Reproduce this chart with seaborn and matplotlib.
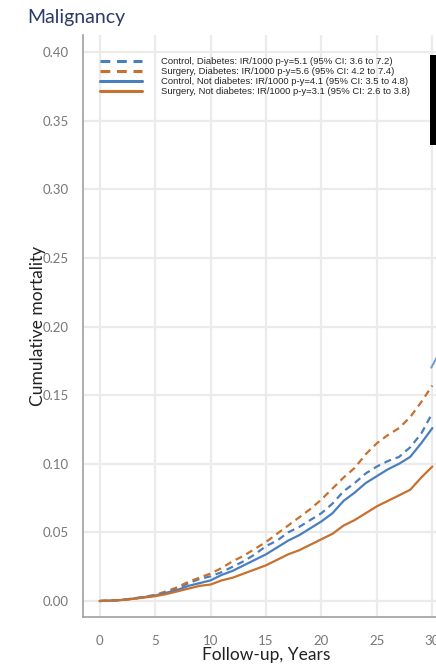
import numpy as np
import pandas as pd
import matplotlib
matplotlib.use("Agg")
import matplotlib.pyplot as plt
import seaborn as sns
from matplotlib.patches import Rectangle

################################################
## data (cumulative mortality by year)
years = list(range(0, 31))
surg_dm = [0, 0.0003, 0.0008, 0.0018, 0.003, 0.0045, 0.007, 0.010, 0.014, 0.017, 0.020,
           0.024, 0.029, 0.033, 0.038, 0.043, 0.049, 0.055, 0.061, 0.067, 0.074,
           0.082, 0.090, 0.097, 0.107, 0.115, 0.121, 0.126, 0.134, 0.145, 0.157]
ctrl_dm = [0, 0.0003, 0.0008, 0.0017, 0.0028, 0.004, 0.006, 0.009, 0.013, 0.016, 0.018,
           0.021, 0.025, 0.029, 0.034, 0.040, 0.044, 0.050, 0.054, 0.059, 0.064,
           0.071, 0.080, 0.086, 0.093, 0.098, 0.102, 0.105, 0.112, 0.122, 0.137]
ctrl_nodm = [0, 0.0003, 0.0008, 0.0017, 0.0028, 0.004, 0.006, 0.008, 0.011, 0.013, 0.015,
             0.019, 0.022, 0.026, 0.030, 0.034, 0.039, 0.044, 0.048, 0.053, 0.058,
             0.064, 0.073, 0.079, 0.086, 0.091, 0.096, 0.100, 0.105, 0.115, 0.126]
surg_nodm = [0, 0.0003, 0.0007, 0.0015, 0.0025, 0.0035, 0.005, 0.007, 0.009, 0.011, 0.012,
             0.015, 0.017, 0.020, 0.023, 0.026, 0.030, 0.034, 0.037, 0.041, 0.045,
             0.049, 0.055, 0.059, 0.064, 0.069, 0.073, 0.077, 0.081, 0.090, 0.098]
tail_years = [29.9, 30.5]
tail_vals = [0.170, 0.179]

labels = ["Control, Diabetes: IR/1000 p-y=5.1 (95% CI: 3.6 to 7.2)",
          "Surgery, Diabetes: IR/1000 p-y=5.6 (95% CI: 4.2 to 7.4)",
          "Control, Not diabetes: IR/1000 p-y=4.1 (95% CI: 3.5 to 4.8)",
          "Surgery, Not diabetes: IR/1000 p-y=3.1 (95% CI: 2.6 to 3.8)"]
series = [ctrl_dm, surg_dm, ctrl_nodm, surg_nodm]

blue = "#4a7fbd"
orange = "#c8702e"
palette = dict(zip(labels, [blue, orange, blue, orange]))
dashes = dict(zip(labels, [(3.2, 2.2), (3.2, 2.2), "", ""]))

df = pd.concat([pd.DataFrame({"years": years, "cum": s, "label": lab})
                for s, lab in zip(series, labels)], ignore_index=True)

################################################
## plot
sns.set_style("whitegrid")
plt.rcParams['font.family'] = ['Lato', 'DejaVu Sans']

fig = plt.figure(figsize=(4.36, 6.69), dpi=100)
ax = fig.add_axes([83/436, 1-617/669, 366/436, 582/669])

sns.lineplot(data=df, x="years", y="cum", hue="label", style="label",
             hue_order=labels, style_order=labels, palette=palette, dashes=dashes,
             linewidth=1.6, ax=ax)
ax.plot(tail_years, tail_vals, color="#6a9bd3", linewidth=1.4)

ax.set_xticks(range(0, 36, 5))
ax.set_yticks(np.arange(0, 0.401, 0.05))
ax.set_yticklabels([f"{v:.2f}" for v in np.arange(0, 0.401, 0.05)])
ax.set_xlim(-1.5, 31.5)
ax.set_ylim(-0.01166, 0.4124)

ax.grid(True, color="#ebebeb", linewidth=1.6)
for side in ["top", "right"]:
    ax.spines[side].set_visible(False)
for side in ["left", "bottom"]:
    ax.spines[side].set_color("#a0a0a0")
    ax.spines[side].set_linewidth(1.2)
ax.tick_params(axis="both", direction="out", length=5, width=1.1, color="#a0a0a0",
               labelcolor="#777777", labelsize=9.5, pad=5)
ax.tick_params(axis="x", pad=8)

ax.set_xlabel("Follow-up, Years", fontsize=12.5, color="#222222")
ax.set_ylabel("Cumulative mortality", fontsize=12.5, color="#222222")
ax.xaxis.set_label_coords(0.5, -0.052)
ax.yaxis.set_label_coords(-0.101, 0.5)

leg = ax.legend(loc="upper left", bbox_to_anchor=(0.024, 0.977), frameon=False,
                handlelength=4.4, handletextpad=2.0, labelspacing=0.12,
                prop={"family": ["Liberation Sans", "DejaVu Sans"], "size": 6.8})
for line in leg.get_lines():
    line.set_linewidth(2.2)

fig.text(27/436, 1-18/669, "Malignancy", fontsize=14, color="#2b3a67", va="center", ha="left")
fig.patches.append(Rectangle((430/436, 1-145/669), 6/436, 90/669, transform=fig.transFigure,
                             facecolor="black", edgecolor="none"))

fig.savefig("out.png", dpi=100)
